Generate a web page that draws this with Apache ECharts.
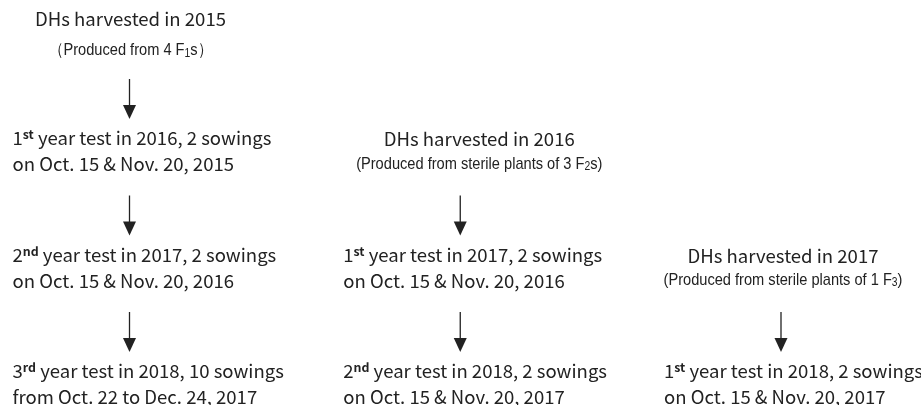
<!DOCTYPE html>
<html>
<head>
<meta charset="utf-8">
<script src="https://cdn.jsdelivr.net/npm/echarts@6/dist/echarts.min.js"></script>
<style>
  html, body { margin: 0; padding: 0; background: #fff; }
  #chart { width: 921px; height: 405px; }
</style>
</head>
<body>
<div id="chart"></div>
<script>
// flowchart data: columns = DH batches, levels = years down the page
const headerTitles = ["DHs harvested in 2015", "DHs harvested in 2016", "DHs harvested in 2017"];
const headerSources = [
  ["（Produced from 4 F", "1", "s）"],
  ["(Produced from sterile plants of 3 F", "2", "s)"],
  ["(Produced from sterile plants of 1 F", "3", ")"],
];
const headerLevels = [0, 1, 2];

const stepColumns = [0, 0, 0, 1, 1, 2];
const stepLevels = [1, 2, 3, 2, 3, 3];
const stepOrdinals = ["1", "2", "3", "1", "2", "1"];
const stepSuffixes = ["st", "nd", "rd", "st", "nd", "st"];
const stepYears = [2016, 2017, 2018, 2017, 2018, 2018];
const stepSowings = [2, 2, 10, 2, 2, 2];
const stepDates = [
  "on Oct. 15 & Nov. 20, 2015",
  "on Oct. 15 & Nov. 20, 2016",
  "from Oct. 22 to Dec. 24, 2017",
  "on Oct. 15 & Nov. 20, 2016",
  "on Oct. 15 & Nov. 20, 2017",
  "on Oct. 15 & Nov. 20, 2017",
];

// layout tweaks (pixels)
const colNudge = [0, 5, 0];
const headerShift = [1, 19, 2];
const headerGap = [31, 25, 24];
const stepIndent = -117;
const mainFont = '"Noto Sans CJK JP", "Noto Sans", sans-serif';
const mainSize = 18;
const mainStretch = 1.03;
const narrowFont = '"Liberation Sans", Arial, sans-serif';
const narrowSize = 17;
const narrowStretch = 0.86;
const ink = "#222";

const chart = echarts.init(document.getElementById("chart"));

function textEl(x, y, text, font, size, stretch, align, rich) {
  return {
    type: "text",
    x: x,
    y: y,
    scaleX: stretch,
    style: {
      text: text,
      fontFamily: font,
      fontSize: size,
      fill: ink,
      align: align,
      textAlign: align,
      verticalAlign: "middle",
      textVerticalAlign: "middle",
      rich: rich || {},
    },
  };
}

const supRich = {
  sup: { fontFamily: mainFont, fontSize: 12, fontWeight: "bold", fill: ink, padding: [0, 0, 8, 0] },
};
const subRich = {
  sub: { fontFamily: narrowFont, fontSize: 12, fill: ink, padding: [6, 0, 0, 0] },
};

const headerData = headerTitles.map((t, i) => [i, headerLevels[i], i]);
const stepData = stepColumns.map((c, i) => [c, stepLevels[i], i]);
const arrowData = stepColumns.map((c, i) => [c, stepLevels[i] - 1, i]);

chart.setOption({
  animation: false,
  grid: { left: 129.5, right: 140, top: 35, bottom: 20.5 },
  xAxis: { type: "value", min: 0, max: 2, show: false },
  yAxis: { type: "value", min: 0, max: 3, inverse: true, show: false },
  series: [
    {
      type: "custom",
      data: headerData,
      renderItem: function (params, api) {
        const i = api.value(2);
        const p = api.coord([api.value(0), api.value(1)]);
        const cx = p[0] + colNudge[i] + headerShift[i];
        const g = headerGap[i] / 2;
        const src = headerSources[i];
        return {
          type: "group",
          children: [
            textEl(cx, p[1] - g, headerTitles[i], mainFont, mainSize, mainStretch, "center"),
            textEl(cx, p[1] + g, src[0] + "{sub|" + src[1] + "}" + src[2],
              narrowFont, narrowSize, narrowStretch, "center", subRich),
          ],
        };
      },
    },
    {
      type: "custom",
      data: stepData,
      renderItem: function (params, api) {
        const i = api.value(2);
        const c = api.value(0);
        const p = api.coord([c, api.value(1)]);
        const x = p[0] + colNudge[c] + stepIndent;
        const line1 = stepOrdinals[i] + "{sup|" + stepSuffixes[i] + "} year test in " +
          stepYears[i] + ", " + stepSowings[i] + " sowings";
        return {
          type: "group",
          children: [
            textEl(x, p[1] - 13, line1, mainFont, mainSize, mainStretch, "left", supRich),
            textEl(x, p[1] + 13, stepDates[i], mainFont, mainSize, mainStretch, "left"),
          ],
        };
      },
    },
    {
      type: "custom",
      data: arrowData,
      renderItem: function (params, api) {
        const c = api.value(0);
        const p = api.coord([c, api.value(1)]);
        const x = p[0] + colNudge[c];
        const y0 = p[1] + 44, yh = p[1] + 70, tip = p[1] + 84;
        return {
          type: "group",
          children: [
            { type: "line", shape: { x1: x, y1: y0, x2: x, y2: yh + 1 }, style: { stroke: ink, lineWidth: 1.3 } },
            { type: "polygon", shape: { points: [[x - 6.5, yh], [x + 6.5, yh], [x, tip]] }, style: { fill: ink } },
          ],
        };
      },
    },
  ],
});
</script>
</body>
</html>
